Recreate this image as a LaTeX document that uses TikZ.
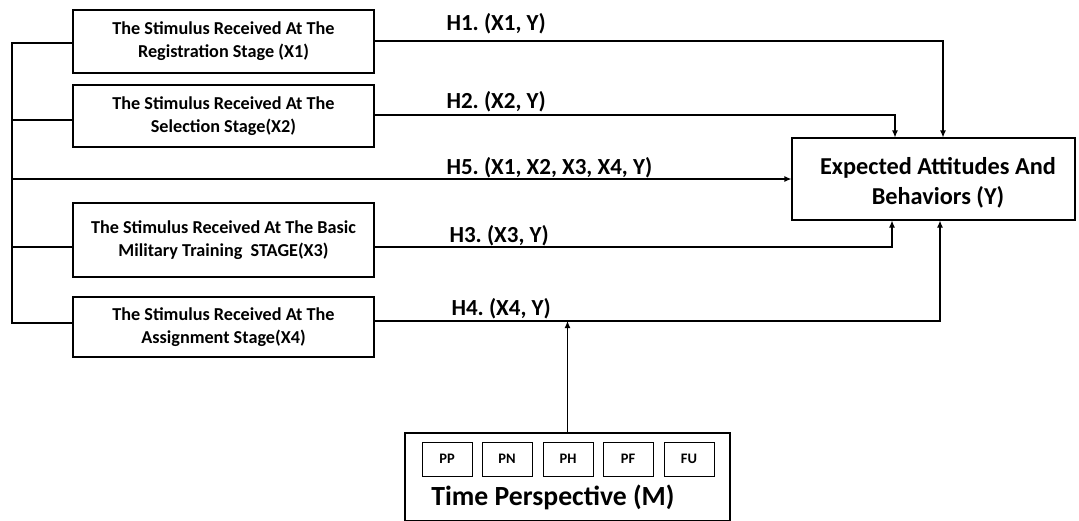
\documentclass[tikz,border=0pt]{standalone}
\usepackage{fontspec}
\setmainfont{Carlito}
\usetikzlibrary{arrows.meta, calc}

\tikzset{
  stagebox/.style={draw, line width=1.1pt, minimum width=301pt, align=center,
    font=\bfseries\fontsize{18.2}{23}\selectfont},
  dvbox/.style={draw, line width=1.1pt, minimum width=283pt, minimum height=82pt},
  subbox/.style={draw, line width=0.8pt, minimum width=50pt, minimum height=34pt,
    font=\bfseries\fontsize{14.5}{16}\selectfont},
  hlabel/.style={font=\bfseries\fontsize{23}{25}\selectfont, anchor=base west},
  link/.style={line width=1.1pt},
  arr/.style={link, -{Latex[length=7pt,width=6pt]}}
}

\begin{document}
\frenchspacing
\begin{tikzpicture}[x=1pt, y=-1pt]
    \useasboundingbox (0,0) rectangle (1079,520);
    % stage boxes
    \node[stagebox, minimum height=63pt] (x1) at (223.5,41.5) {The Stimulus Received At The\\Registration Stage (X1)};
    \node[stagebox, minimum height=62pt] (x2) at (223.5,116) {The Stimulus Received At The\\Selection Stage(X2)};
    \node[stagebox, minimum height=74pt] (x3) at (223.5,240) {The Stimulus Received At The Basic\\Military Training\ \ STAGE(X3)};
    \node[stagebox, minimum height=60pt] (x4) at (223.5,327) {The Stimulus Received At The\\Assignment Stage(X4)};
    % outcome and moderator
    \node[dvbox] (y) at (933.5,179) {};
    \node[align=center, font=\bfseries\fontsize{24.3}{30}\selectfont] (ylabel) at (938,183) {Expected Attitudes And\\Behaviors (Y)};
    \node[draw, line width=1.1pt, minimum width=325pt, minimum height=88pt] (m) at (567.5,477) {};
    \foreach \name/\txt/\px in {pp/PP/447, pn/PN/507, ph/PH/568, pf/PF/628, fu/FU/689}
        \node[subbox] (\name) at (\px,459) {\txt};
    \node[font=\bfseries\fontsize{27.7}{30}\selectfont] (mlabel) at (553,497) {Time Perspective (M)};
    % left bus
    \coordinate (bus1) at (12,43);
    \coordinate (bus4) at (12,323);
    \draw[link] (x1.west |- bus1) -- (bus1) -- (bus4) -- (x4.west |- bus4);
    \draw[link] (x2.west |- 0,120) -- (12,120);
    \draw[link] (x3.west |- 0,247) -- (12,247);
    % hypotheses
    \draw[arr] (x1.east |- 0,41) -| ($(y.north)+(9.5,0)$);
    \draw[arr] (x2.east |- 0,115) -| ($(y.north)+(-38.5,0)$);
    \draw[arr] (12,179) -- (y.west);
    \draw[arr] (x3.east |- 0,247) -| ($(y.south)+(-41.5,0)$);
    \draw[arr] (x4.east |- 0,321) -| ($(y.south)+(6.5,0)$);
    \coordinate (hit) at (m.north |- 0,321);
    \draw[arr] (m.north) -- (hit);
    \node[hlabel] (h1) at (443,30) {H1. (X1, Y)};
    \node[hlabel] (h2) at (443,108) {H2. (X2, Y)};
    \node[hlabel] (h5) at (443,174.5) {H5. (X1, X2, X3, X4, Y)};
    \node[hlabel] (h3) at (446,242) {H3. (X3, Y)};
    \node[hlabel] (h4) at (448,315) {H4. (X4, Y)};
\end{tikzpicture}
\end{document}
